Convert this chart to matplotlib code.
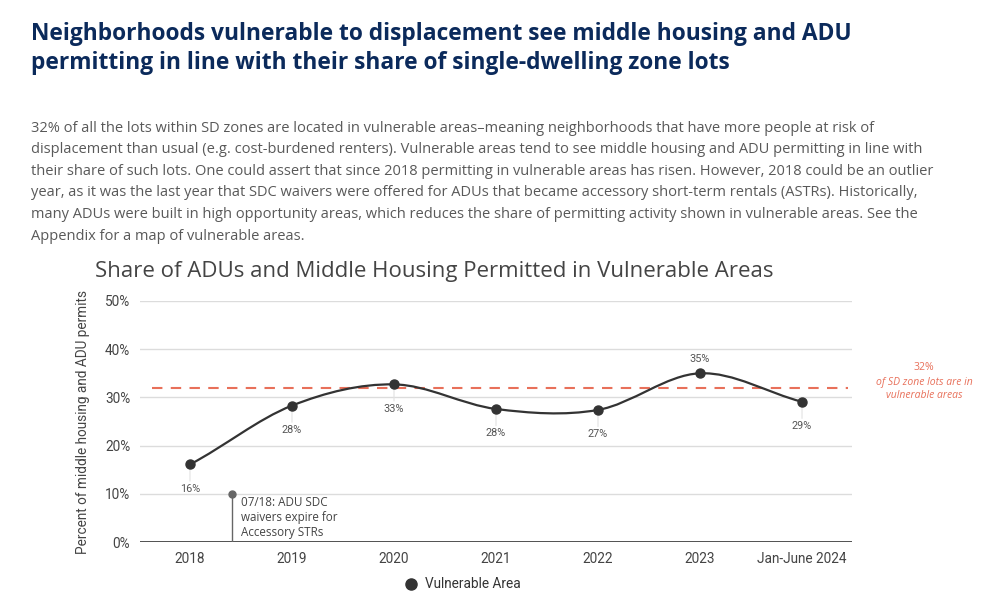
import numpy as np
import matplotlib
matplotlib.use('Agg')
import matplotlib.pyplot as plt
from matplotlib.path import Path
from matplotlib.patches import PathPatch

# data
years = ['2018', '2019', '2020', '2021', '2022', '2023', 'Jan-June 2024']
share = [16.1, 28.3, 32.7, 27.6, 27.4, 35.0, 29.1]
labels = ['16%', '28%', '33%', '28%', '27%', '35%', '29%']
label_above = [False, False, False, False, False, True, False]
sd_share = 32
yticks = [0, 10, 20, 30, 40, 50]
event_x = 0.41
event_y = 10

W, H = 1000, 598
navy = '#0b2a5b'
body = '#595959'
red = '#e8705a'
line_c = '#333333'

fig = plt.figure(figsize=(W / 100, H / 100), dpi=100)
renderer = fig.canvas.get_renderer()


def fy(py):
    return 1 - py / H


def fit(t, right_px):
    # scale font so the text ends where the reference text ends
    left = t.get_window_extent(renderer).x0
    w = t.get_window_extent(renderer).width
    t.set_fontsize(t.get_fontsize() * (right_px - left) / w)
    return t.get_fontsize()


h1 = fig.text(31 / W, fy(34), 'Neighborhoods vulnerable to displacement see middle housing and ADU',
              fontsize=15, fontweight='bold', color=navy, family='Open Sans', va='center')
hs = fit(h1, 853)
fig.text(31 / W, fy(63), 'permitting in line with their share of single-dwelling zone lots',
         fontsize=hs, fontweight='bold', color=navy, family='Open Sans', va='center')

para = ["32% of all the lots within SD zones are located in vulnerable areas\u2013meaning neighborhoods that have more people at risk of",
        "displacement than usual (e.g. cost-burdened renters). Vulnerable areas tend to see middle housing and ADU permitting in line with",
        "their share of such lots. One could assert that since 2018 permitting in vulnerable areas has risen. However, 2018 could be an outlier",
        "year, as it was the last year that SDC waivers were offered for ADUs that became accessory short-term rentals (ASTRs). Historically,",
        "many ADUs were built in high opportunity areas, which reduces the share of permitting activity shown in vulnerable areas. See the",
        "Appendix for a map of vulnerable areas."]
ptexts = []
for i, s in enumerate(para):
    ptexts.append(fig.text(31 / W, fy(128 + i * 21.6), s, fontsize=9.6, color=body,
                           family='Open Sans', va='center'))
bs = fit(ptexts[2], 937)
for t in ptexts:
    t.set_fontsize(bs)

ct = fig.text(95 / W, fy(271), 'Share of ADUs and Middle Housing Permitted in Vulnerable Areas',
              fontsize=15, color='#444444', family='Open Sans', va='center')
fit(ct, 773)

ax = fig.add_axes([140 / W, fy(542), 712 / W, (542 - 301) / H])
x = np.arange(len(years))
ax.set_xlim(-0.49, len(years) - 0.51)
ax.set_ylim(0, 50)

# gridlines
for t in yticks[1:]:
    ax.axhline(t, color='#dcdcdc', lw=1, zorder=0)
ax.axhline(0, color='#333333', lw=1.2, zorder=1)

# smooth curve through the points (cubic bezier, catmull-rom tangents)
y = np.array(share)
n = len(y)
m = np.zeros(n)
m[1:-1] = (y[2:] - y[:-2]) / 2
m[0] = (y[1] - y[0]) * 0.9
m[-1] = (y[-1] - y[-2]) * 0.9
verts = [(x[0], y[0])]
codes = [Path.MOVETO]
for i in range(n - 1):
    verts += [(x[i] + 1 / 3, y[i] + m[i] / 3), (x[i + 1] - 1 / 3, y[i + 1] - m[i + 1] / 3), (x[i + 1], y[i + 1])]
    codes += [Path.CURVE4] * 3
ax.add_patch(PathPatch(Path(verts, codes), fill=False, edgecolor=line_c, lw=1.6, zorder=4))

ax.plot(x, share, 'o', color=line_c, ms=6.5, zorder=5)

ax.axhline(sd_share, xmin=0.017, xmax=0.995, color=red, lw=1.5, ls=(0, (5, 4)), zorder=3)

for xi, yi, lb, up in zip(x, share, labels, label_above):
    if up:
        ax.annotate(lb, (xi, yi), xytext=(0, 7), textcoords='offset points', ha='center',
                    va='bottom', fontsize=7.8, color='#555555', family='Roboto')
    else:
        ax.annotate(lb, (xi, yi), xytext=(0, -14), textcoords='offset points', ha='center',
                    va='top', fontsize=7.8, color='#555555', family='Roboto',
                    arrowprops=dict(arrowstyle='-', color='#e2e2e2', lw=0.8, shrinkA=0, shrinkB=0))

# event marker
ax.plot([event_x, event_x], [0, event_y], color='#666666', lw=1, zorder=3)
ax.plot(event_x, event_y, 'o', color='#666666', ms=5, zorder=4)
ax.text(event_x + 0.09, event_y - 0.5, '07/18: ADU SDC\nwaivers expire for\nAccessory STRs',
        fontsize=8.4, color='#444444', family='Open Sans', va='top', ha='left', linespacing=1.2)

ax.set_xticks(x)
ax.set_xticklabels(years, fontsize=9.8, color='#444444', family='Roboto')
ax.set_yticks(yticks)
ax.set_yticklabels([f'{t}%' for t in yticks], fontsize=9.8, color='#444444', family='Roboto')
ax.tick_params(length=0, pad=7)
ax.tick_params(axis='y', pad=7)
for s in ax.spines.values():
    s.set_visible(False)
ax.set_ylabel('Percent of middle housing and ADU permits', fontsize=9.8, color='#444444',
              family='Roboto', labelpad=11)

# right side note
fig.text(924 / W, fy(368), '32%', fontsize=7.5, color=red, ha='center', va='center', family='Open Sans')
fig.text(924 / W, fy(382), 'of SD zone lots are in', fontsize=7.5, color=red, ha='center',
         va='center', style='italic', family='Open Sans')
fig.text(924 / W, fy(396), 'vulnerable areas', fontsize=7.5, color=red, ha='center',
         va='center', style='italic', family='Open Sans')

# legend
fig.lines.append(plt.Line2D([411 / W], [fy(584)], marker='o', color=line_c, ms=8, transform=fig.transFigure))
fig.text(425 / W, fy(584), 'Vulnerable Area', fontsize=9.8, color='#333333', va='center', family='Roboto')

fig.savefig('out.png', dpi=100)
